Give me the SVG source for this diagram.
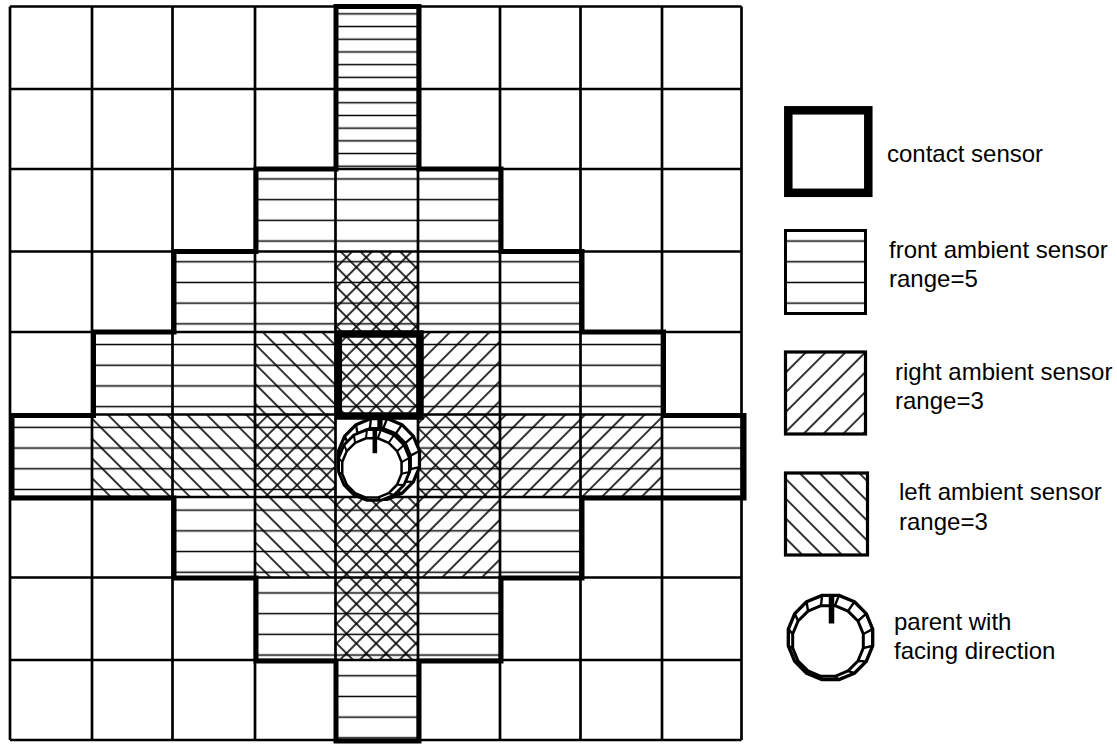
<svg xmlns="http://www.w3.org/2000/svg" width="1117" height="744" viewBox="0 0 1117 744">
<style>
.grid{stroke:#000;stroke-width:2.7;fill:none}
.outline{stroke:#000;stroke-width:5;fill:none;stroke-linejoin:miter}
.contact{stroke:#000;stroke-width:7.5;fill:none}
.lbl{font-family:"Liberation Sans",Arial,sans-serif;font-size:24px;fill:#000}
.ring{fill:#fff;stroke:#000;stroke-width:3.4;stroke-linejoin:round}
.ring2{fill:none;stroke:#000;stroke-width:3;stroke-linejoin:round}
.rung{stroke:#000;stroke-width:2.4}
</style>
<defs>
<pattern id="hz" patternUnits="userSpaceOnUse" x="0" y="3" width="40" height="20.7"><line x1="0" y1="10.35" x2="40" y2="10.35" stroke="#000" stroke-width="1.4"/></pattern>
<pattern id="hzd" patternUnits="userSpaceOnUse" x="0" y="7.5" width="40" height="12.7"><line x1="0" y1="6.35" x2="40" y2="6.35" stroke="#000" stroke-width="1.4"/></pattern>
<pattern id="rd" patternUnits="userSpaceOnUse" x="0" y="0" width="20" height="14" patternTransform="rotate(-45)"><line x1="0" y1="7" x2="20" y2="7" stroke="#000" stroke-width="1.6"/></pattern>
<pattern id="ld" patternUnits="userSpaceOnUse" x="0" y="0" width="20" height="14" patternTransform="rotate(45)"><line x1="0" y1="7" x2="20" y2="7" stroke="#000" stroke-width="1.6"/></pattern>
<g id="coin">
<polygon class="ring" points="42.17,8.39 35.75,23.89 23.89,35.75 8.39,42.17 -8.39,42.17 -23.89,35.75 -35.75,23.89 -42.17,8.39 -42.17,-8.39 -35.75,-23.89 -23.89,-35.75 -8.39,-42.17 8.39,-42.17 23.89,-35.75 35.75,-23.89 42.17,-8.39"/>
<polygon class="ring2" points="32.81,10.52 27.43,23.5 17.5,33.43 4.52,38.81 -9.52,38.81 -22.5,33.43 -32.43,23.5 -37.81,10.52 -37.81,-3.52 -32.43,-16.5 -22.5,-26.43 -9.52,-31.81 4.52,-31.81 17.5,-26.43 27.43,-16.5 32.81,-3.52"/>
<path class="rung" d="M42.17,8.39L32.81,10.52M35.75,23.89L27.43,23.5M23.89,35.75L17.5,33.43M8.39,42.17L4.52,38.81M-8.39,42.17L-9.52,38.81M-23.89,35.75L-22.5,33.43M-35.75,23.89L-32.43,23.5M-42.17,8.39L-37.81,10.52M-42.17,-8.39L-37.81,-3.52M-35.75,-23.89L-32.43,-16.5M-23.89,-35.75L-22.5,-26.43M-8.39,-42.17L-9.52,-31.81M8.39,-42.17L4.52,-31.81M23.89,-35.75L17.5,-26.43M35.75,-23.89L27.43,-16.5M42.17,-8.39L32.81,-3.52"/>
<line x1="1" y1="-42" x2="1" y2="-14" stroke="#000" stroke-width="5.5"/>
</g>
</defs>
<rect width="1117" height="744" fill="#fff"/>

<g id="front-ambient-range">
<rect x="335.5" y="6.5" width="82.5" height="162.5" fill="url(#hzd)"/>
<rect x="255" y="169" width="245" height="82.5" fill="url(#hz)"/>
<rect x="172.5" y="251.5" width="408" height="80.5" fill="url(#hz)"/>
<rect x="92" y="332" width="570" height="82.5" fill="url(#hz)"/>
<rect x="10" y="414.5" width="733.5" height="82.5" fill="url(#hz)"/>
<rect x="172.5" y="497" width="408" height="80.5" fill="url(#hz)"/>
<rect x="255" y="577.5" width="245" height="82.5" fill="url(#hz)"/>
<rect x="335.5" y="660" width="82.5" height="80" fill="url(#hz)"/>
</g>
<g id="left-ambient-range">
<rect x="335.5" y="251.5" width="82.5" height="80.5" fill="url(#ld)"/>
<rect x="255" y="332" width="163" height="82.5" fill="url(#ld)"/>
<rect x="92" y="414.5" width="243.5" height="82.5" fill="url(#ld)"/>
<rect x="418" y="414.5" width="82" height="82.5" fill="url(#ld)"/>
<rect x="255" y="497" width="163" height="80.5" fill="url(#ld)"/>
<rect x="335.5" y="577.5" width="82.5" height="82.5" fill="url(#ld)"/>
</g>
<g id="right-ambient-range">
<rect x="335.5" y="251.5" width="82.5" height="80.5" fill="url(#rd)"/>
<rect x="335.5" y="332" width="164.5" height="82.5" fill="url(#rd)"/>
<rect x="255" y="414.5" width="80.5" height="82.5" fill="url(#rd)"/>
<rect x="418" y="414.5" width="244" height="82.5" fill="url(#rd)"/>
<rect x="335.5" y="497" width="164.5" height="80.5" fill="url(#rd)"/>
<rect x="335.5" y="577.5" width="82.5" height="82.5" fill="url(#rd)"/>
</g>
<rect x="335.5" y="414.5" width="82.5" height="82.5" fill="#fff"/>

<g id="grid">
<path class="grid" d="M10,6.5V740M92,6.5V740M172.5,6.5V740M255,6.5V740M335.5,6.5V740M418,6.5V740M500,6.5V740M580.5,6.5V740M662,6.5V740M741.5,6.5V740M10,6.5H741.5M10,89H741.5M10,169H741.5M10,251.5H741.5M10,332H741.5M10,414.5H741.5M10,497H741.5M10,577.5H741.5M10,660H741.5M10,740H741.5"/>
</g>
<g id="front-outline">
<path class="outline" d="M336,6.5H419V169H501V251.5H582V332H663.5V415.5H744V498H582V578H501V661H419V741H336V661H256V578H174V498H12V415.5H93.5V332H174V251.5H256V169H336Z"/>
</g>
<g id="contact-sensor">
<rect class="contact" x="338.3" y="334" width="81.7" height="82"/>
</g>
<g id="parent">
<use href="#coin" transform="translate(379,459) scale(0.96)"/>
<use href="#coin" transform="translate(374,465) scale(0.84)"/>
</g>

<g id="legend-contact">
<rect x="788.3" y="110.3" width="80" height="82.5" fill="#fff" stroke="#000" stroke-width="8.5"/>
<text class="lbl" x="887" y="162">contact sensor</text>
</g>
<g id="legend-front">
<rect x="785.5" y="230.5" width="80" height="83" fill="url(#hz)" stroke="#000" stroke-width="3"/>
<text class="lbl" x="889" y="258">front ambient sensor</text>
<text class="lbl" x="889" y="287">range=5</text>
</g>
<g id="legend-right">
<rect x="785.5" y="352" width="80" height="82" fill="url(#rd)" stroke="#000" stroke-width="3.2"/>
<text class="lbl" x="895" y="380">right ambient sensor</text>
<text class="lbl" x="895" y="409">range=3</text>
</g>
<g id="legend-left">
<rect x="785.5" y="473" width="82" height="82" fill="url(#ld)" stroke="#000" stroke-width="3.2"/>
<text class="lbl" x="899" y="500">left ambient sensor</text>
<text class="lbl" x="899" y="530">range=3</text>
</g>
<g id="legend-parent">
<use href="#coin" transform="translate(830.5,637.5)"/>
<text class="lbl" x="894" y="630">parent with</text>
<text class="lbl" x="894" y="659">facing direction</text>
</g>
</svg>
